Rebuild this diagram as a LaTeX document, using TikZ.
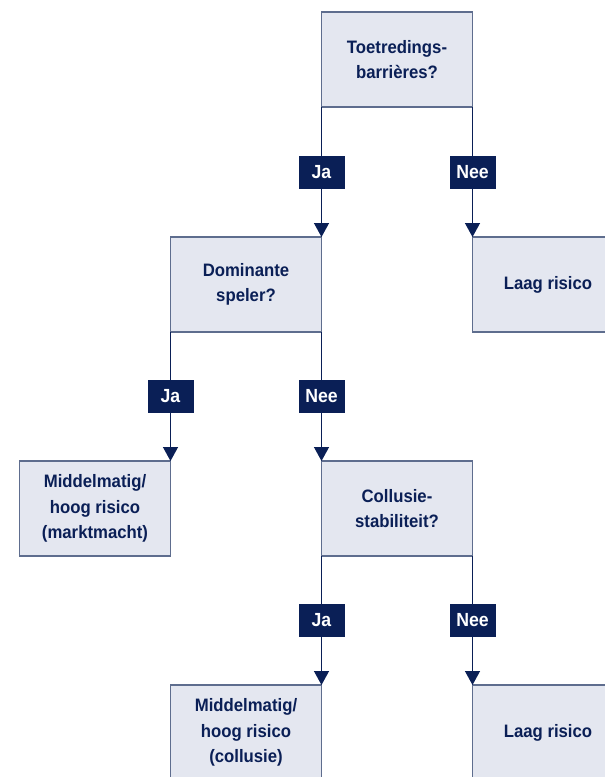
\documentclass[tikz,border=0pt]{standalone}
\usepackage{fontspec}
\setmainfont[FakeStretch=0.93]{Liberation Sans}
\usetikzlibrary{arrows.meta}
\definecolor{navy}{HTML}{0A1F56}
\definecolor{boxfill}{HTML}{E4E7F0}
\definecolor{boxline}{HTML}{5E6D8E}
\begin{document}
\begin{tikzpicture}[x=1pt,y=-1pt,
  box/.style={draw=boxline, line width=1.6pt, fill=boxfill,
    minimum width=151pt, minimum height=95pt, inner sep=0pt, outer sep=0pt,
    align=center, text=navy, font=\fontsize{18}{25.5}\selectfont\bfseries},
  tag/.style={fill=navy, text=white, minimum width=46pt, minimum height=33pt,
    inner sep=0pt, font=\fontsize{19}{20}\selectfont\bfseries},
  link/.style={draw=navy, line width=1.3pt, -{Triangle[length=14pt,width=15pt]}}]
\useasboundingbox (0,0) rectangle (605,777);
\clip (0,0) rectangle (605,777);

% decision and outcome boxes
\node[box] (q1)   at (397,59.5)  {Toetredings-\\barrières?};
\node[box] (q2)   at (246,284.5) {Dominante\\speler?};
\node[box] (low1) at (548,284.5) {Laag risico};
\node[box] (mid1) at (95,508.5)  {Middelmatig/\\hoog risico\\(marktmacht)};
\node[box] (q3)   at (397,508.5) {Collusie-\\stabiliteit?};
\node[box] (mid2) at (246,732.5) {Middelmatig/\\hoog risico\\(collusie)};
\node[box] (low2) at (548,732.5) {Laag risico};

% branches
\draw[link] (q1.south west) -- (q2.north east);
\draw[link] (q1.south east) -- (low1.north west);
\draw[link] (q2.south west) -- (mid1.north east);
\draw[link] (q2.south east) -- (q3.north west);
\draw[link] (q3.south west) -- (mid2.north east);
\draw[link] (q3.south east) -- (low2.north west);

% branch labels
\path (q1.south west) -- (q2.north east)   node[tag, midway] {Ja};
\path (q1.south east) -- (low1.north west) node[tag, midway] {Nee};
\path (q2.south west) -- (mid1.north east) node[tag, midway] {Ja};
\path (q2.south east) -- (q3.north west)   node[tag, midway] {Nee};
\path (q3.south west) -- (mid2.north east) node[tag, midway] {Ja};
\path (q3.south east) -- (low2.north west) node[tag, midway] {Nee};
\end{tikzpicture}
\end{document}
